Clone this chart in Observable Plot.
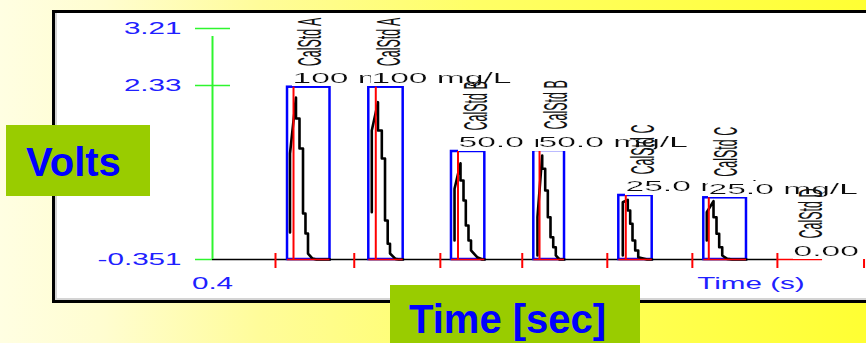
<!DOCTYPE html>
<html>
<head>
<meta charset="utf-8">
<script src="https://cdn.jsdelivr.net/npm/d3@7"></script>
<script src="https://cdn.jsdelivr.net/npm/@observablehq/plot@0.6"></script>
<style>
  html, body { margin: 0; padding: 0; }
  body {
    width: 866px; height: 343px; overflow: hidden; position: relative;
    background: linear-gradient(to right, #fffee2 0%, #fffdd0 12%, #fffc9a 30%, #ffff66 55%, #ffff33 100%);
    font-family: "Liberation Sans", Arial, sans-serif;
  }
  #panel {
    position: absolute; left: 52px; top: 10px; width: 900px; height: 287px;
    background: #fff; border: 3px solid #000; border-right: none;
    box-shadow: inset 2px -2px 0 #d4d4d4;
  }
  #chart { position: absolute; left: 55px; top: 13px; }
  .tag {
    position: absolute; background: #99cc00; color: #0000ff;
    font: bold 40px "Liberation Sans", Arial, sans-serif; line-height: 46px;
    box-sizing: border-box; white-space: nowrap;
  }
  #volts { left: 6px; top: 125px; width: 144px; height: 71px; padding: 14px 0 0 20px; }
  #time { left: 390px; top: 285px; width: 250px; height: 70px; padding: 11px 0 0 19px; }
</style>
</head>
<body>
<div id="panel"></div>
<div id="chart"></div>
<div id="volts" class="tag">Volts</div>
<div id="time" class="tag">Time [sec]</div>
<script>
// ---- data ----
const yTicks = [3.21, 2.33, -0.351];
const yTickLabels = ["3.21", "2.33", "-0.351"];
const xStart = 0.4;
const xEnd = 12.857;
const xStartLabel = "0.4";
const xAxisTitle = "Time (s)";
const xAxisTitleAt = 10.657;
const xTicks = [1.6, 3.1, 4.74, 6.3, 7.92, 9.54, 11.16, 12.81];
const baseline = -0.351;

const sampleNames = ["CalStd A", "CalStd A", "CalStd B", "CalStd B", "CalStd C", "CalStd C", "CalStd D"];
const concLabels = ["100 mg/L", "100 mg/L", "50.0 mg/L", "50.0 mg/L", "25.0 mg/L", "25.0 mg/L", "0.00 mg/L"];
const labelTime = [1.981, 3.486, 5.143, 6.667, 8.324, 9.905, 11.524];
const windowTop = [2.305, 2.305, 1.314, 1.329, 0.636, 0.600, -0.351];
const windowStart = [1.829, 3.377, 4.952, 6.520, 8.139, 9.758, 11.16];
const windowEnd = [2.638, 4.032, 5.587, 7.105, 8.775, 10.571, 12.02];
const markerTime = [1.943, 3.510, 5.076, 6.629, 8.272, 9.853];

const peak1 = [[1.876,0.065],[1.876,1.283],[1.990,2.146],[1.990,1.823],[2.057,1.823],[2.057,1.360],[2.124,1.360],[2.124,0.358],[2.171,0.358],[2.171,0.050],[2.219,0.050],[2.219,-0.259],[2.305,-0.336],[2.381,-0.351],[2.638,-0.351]];
const peak2 = [[3.434,0.378],[3.434,1.638],[3.552,2.074],[3.552,1.638],[3.625,1.638],[3.625,1.206],[3.686,1.206],[3.686,0.250],[3.737,0.250],[3.737,-0.109],[3.781,-0.109],[3.781,-0.259],[3.886,-0.341],[3.950,-0.351],[4.032,-0.351]];
const peak3 = [[5.010,-0.058],[5.010,0.739],[5.124,1.133],[5.124,0.867],[5.181,0.867],[5.181,0.558],[5.225,0.558],[5.225,0.173],[5.276,0.173],[5.276,-0.058],[5.324,-0.058],[5.324,-0.212],[5.442,-0.316],[5.537,-0.351],[5.587,-0.351]];
const peak4 = [[6.590,-0.289],[6.590,0.301],[6.680,1.252],[6.680,1.047],[6.737,1.047],[6.737,0.713],[6.787,0.713],[6.787,0.301],[6.838,0.301],[6.838,-0.007],[6.890,-0.007],[6.890,-0.161],[6.939,-0.161],[6.939,-0.289],[7.010,-0.351],[7.105,-0.351]];
const peak5 = [[8.215,-0.289],[8.215,0.532],[8.310,0.569],[8.310,0.404],[8.356,0.404],[8.356,0.199],[8.400,0.199],[8.400,-0.058],[8.451,-0.058],[8.451,-0.212],[8.509,-0.212],[8.509,-0.316],[8.680,-0.351],[8.775,-0.351]];
const peak6 = [[9.815,-0.058],[9.815,0.378],[9.943,0.548],[9.943,0.301],[10.000,0.301],[10.000,0.045],[10.051,0.045],[10.051,-0.161],[10.109,-0.161],[10.109,-0.289],[10.204,-0.341],[10.300,-0.351],[10.571,-0.351]];

// ---- tables built from the arrays ----
const trace = [peak1, peak2, peak3, peak4, peak5, peak6]
  .flatMap((p, k) => p.map(([t, v]) => ({k, t, v})));
const boxes = markerTime.map((m, i) => ({m, l: windowStart[i], r: windowEnd[i], top: windowTop[i]}));
const windows = windowStart.map((s, i) => ({s, e: windowEnd[i]}));
const labels = sampleNames.map((n, i) => ({n, c: concLabels[i], t: labelTime[i], v: windowTop[i]}));

const BLUE = "#0000ff", RED = "#ff0000", GREEN = "#2ef52e", AXT = "#2020ff";

const svg = Plot.plot({
  width: 811, height: 286,
  marginLeft: 157, marginRight: 0, marginTop: 15, marginBottom: 40,
  x: {domain: [xStart, xEnd], axis: null},
  y: {domain: [baseline, yTicks[0]], axis: null},
  style: {background: "transparent", overflow: "hidden", maxWidth: "none", fontFamily: "'Liberation Sans', Arial, sans-serif"},
  marks: [
    Plot.ruleY([baseline], {x1: xStart, x2: windowStart[6], stroke: "#000", strokeWidth: 1.5}),
    Plot.rect(boxes, {x1: "l", x2: "r", y1: baseline, y2: "top", fill: "none", stroke: BLUE, strokeWidth: 2.5}),
    Plot.line(trace, {x: "t", y: "v", z: "k", stroke: "#000", strokeWidth: 2.6}),
    Plot.ruleX(boxes, {x: "m", y1: baseline, y2: "top", stroke: RED, strokeWidth: 2}),
    Plot.ruleY(windows, {y: baseline, x1: "s", x2: "e", stroke: RED, strokeWidth: 1.5}),
    Plot.ruleX(xTicks, {x: d => d, y1: baseline, y2: baseline, insetTop: -6, insetBottom: -9, stroke: RED, strokeWidth: 2}),
    Plot.ruleX([xStart], {x: d => d, y1: baseline, y2: yTicks[0], insetBottom: -8, stroke: GREEN, strokeWidth: 2}),
    Plot.ruleY(yTicks.slice(0, 2), {y: d => d, x1: xStart, x2: xStart, insetLeft: -17, insetRight: -18, stroke: GREEN, strokeWidth: 1.5}),
    Plot.ruleY(yTicks.slice(2), {y: d => d, x1: xStart, x2: xStart, insetLeft: -17, stroke: GREEN, strokeWidth: 1.5}),
    Plot.text(yTicks, {x: xStart, y: d => d, text: (d, i) => yTickLabels[i], dx: -31, textAnchor: "end", lineAnchor: "middle", fill: AXT, fontSize: 16}),
    Plot.text([xStartLabel], {x: xStart, y: baseline, text: d => d, dy: 24, textAnchor: "middle", lineAnchor: "middle", fill: AXT, fontSize: 16}),
    Plot.text([xAxisTitle], {x: xAxisTitleAt, y: baseline, text: d => d, dy: 24, textAnchor: "middle", lineAnchor: "middle", fill: AXT, fontSize: 16}),
    Plot.text(labels, {x: "t", y: "v", text: "c", dx: -3, dy: -4, textAnchor: "start", lineAnchor: "bottom", fill: "#111", fontSize: 14}),
    Plot.text(labels, {x: "t", y: "v", text: "n", rotate: -90, dx: 25, dy: -21, textAnchor: "start", lineAnchor: "bottom", fill: "#111", fontSize: 12.5})
  ]
});

document.getElementById("chart").appendChild(svg);

// white background filter for the concentration labels
const root = d3.select(svg);
const defs = root.insert("defs", ":first-child");
const f = defs.append("filter").attr("id", "wbg").attr("x", 0).attr("y", 0).attr("width", 1).attr("height", 1);
f.append("feFlood").attr("flood-color", "white");
f.append("feComposite").attr("in", "SourceGraphic").attr("operator", "over");

function stretchNode(node, s) {
  const t = node.getAttribute("transform");
  if (t && /rotate/.test(t)) node.setAttribute("transform", t + ` scale(1,${s})`);
  else if (t) node.setAttribute("transform", t + ` scale(${s},1)`);
  else {
    const x = +node.getAttribute("x") || 0, y = +node.getAttribute("y") || 0;
    node.setAttribute("transform", `translate(${x},${y}) scale(${s},1) translate(${-x},${-y})`);
  }
}
const axisTexts = new Set([...yTickLabels, xStartLabel, xAxisTitle]);
const concSet = new Set(concLabels);
const sampleSet = new Set(sampleNames);
root.selectAll("text").each(function () {
  const s = this.textContent.trim();
  if (axisTexts.has(s)) stretchNode(this, 1.85);
  else if (concSet.has(s)) { this.setAttribute("filter", "url(#wbg)"); stretchNode(this, 2.4); }
  else if (sampleSet.has(s)) stretchNode(this, 2.6);
});
</script>
</body>
</html>
